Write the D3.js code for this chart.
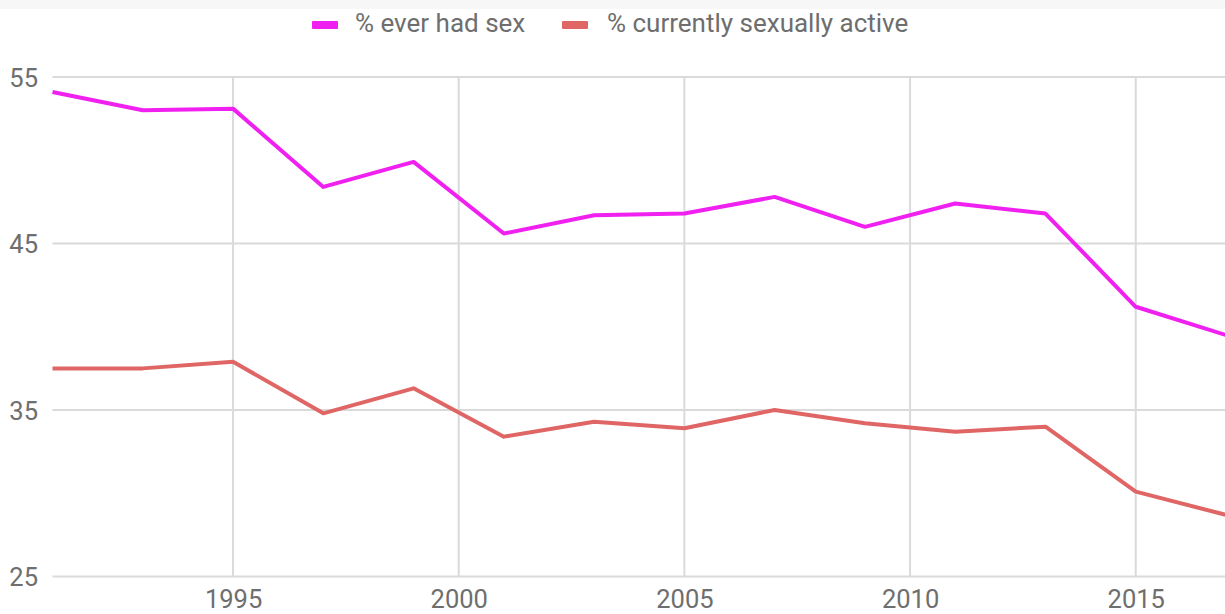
<!DOCTYPE html>
<html>
<head>
<meta charset="utf-8">
<script src="https://cdn.jsdelivr.net/npm/d3@7"></script>
<style>
  html, body { margin: 0; padding: 0; background: #fff; overflow: hidden; }
  svg { display: block; }
  text { font-family: Roboto, "Noto Sans", sans-serif; }
</style>
</head>
<body>
<svg id="chart" width="1225" height="614"></svg>
<script>
const years = [1991, 1993, 1995, 1997, 1999, 2001, 2003, 2005, 2007, 2009, 2011, 2013, 2015, 2017];
const everHadSex = [54.1, 53.0, 53.1, 48.4, 49.9, 45.6, 46.7, 46.8, 47.8, 46.0, 47.4, 46.8, 41.2, 39.5];
const currentlyActive = [37.5, 37.5, 37.9, 34.8, 36.3, 33.4, 34.3, 33.9, 35.0, 34.2, 33.7, 34.0, 30.1, 28.7];
const seriesNames = ["% ever had sex", "% currently sexually active"];
const seriesColors = ["#f020f0", "#e06666"];
const xTicks = [1995, 2000, 2005, 2010, 2015];
const yTicks = [25, 35, 45, 55];

const svg = d3.select("#chart");
const W = 1225, H = 614;

// faint top band
svg.append("rect").attr("x", 0).attr("y", 0).attr("width", W).attr("height", 9).attr("fill", "#f7f7f7");

const x = d3.scaleLinear().domain([1991, 2017]).range([52.5, 1226]);
const y = d3.scaleLinear().domain([25, 55]).range([576.5, 77]);

// horizontal gridlines
svg.append("g").selectAll("line").data(yTicks).join("line")
  .attr("x1", x(1991)).attr("x2", W)
  .attr("y1", d => y(d)).attr("y2", d => y(d))
  .attr("stroke", "#dadada").attr("stroke-width", 2);

// vertical gridlines
svg.append("g").selectAll("line").data(xTicks).join("line")
  .attr("x1", d => x(d)).attr("x2", d => x(d))
  .attr("y1", y(55)).attr("y2", y(25))
  .attr("stroke", "#dadada").attr("stroke-width", 2);

// y axis labels
const yAxis = d3.axisLeft(y).tickValues(yTicks).tickSize(0).tickPadding(0);
const gy = svg.append("g").attr("transform", "translate(38,0)").call(yAxis);
gy.select(".domain").remove();
gy.selectAll("text").attr("font-size", 25.5).attr("fill", "#6e6e6e")
  .attr("font-family", "Roboto, sans-serif").attr("dy", "0.36em");

// x axis labels
const xAxis = d3.axisBottom(x).tickValues(xTicks).tickFormat(d3.format("d")).tickSize(0).tickPadding(0);
const gx = svg.append("g").attr("transform", "translate(0,589.5)").call(xAxis);
gx.select(".domain").remove();
gx.selectAll("text").attr("font-size", 25.5).attr("fill", "#6e6e6e")
  .attr("font-family", "Roboto, sans-serif").attr("dy", "0.71em");

// lines
const data = [everHadSex, currentlyActive];
const line = d3.line().x((d, i) => x(years[i])).y(d => y(d));
svg.append("g").selectAll("path").data(data).join("path")
  .attr("d", d => line(d))
  .attr("fill", "none")
  .attr("stroke", (d, i) => seriesColors[i])
  .attr("stroke-width", 4)
  .attr("stroke-linejoin", "round");

// legend
const legendX = [312, 562];
const lg = svg.append("g").selectAll("g").data(seriesNames).join("g")
  .attr("transform", (d, i) => `translate(${legendX[i]},0)`);
lg.append("rect").attr("x", 0).attr("y", 21).attr("width", 26).attr("height", 8)
  .attr("rx", 1).attr("fill", (d, i) => seriesColors[i]);
lg.append("text").attr("x", (d, i) => i === 0 ? 43 : 45).attr("y", 32)
  .attr("font-size", 26).attr("fill", "#6e6e6e").text(d => d);
</script>
</body>
</html>
